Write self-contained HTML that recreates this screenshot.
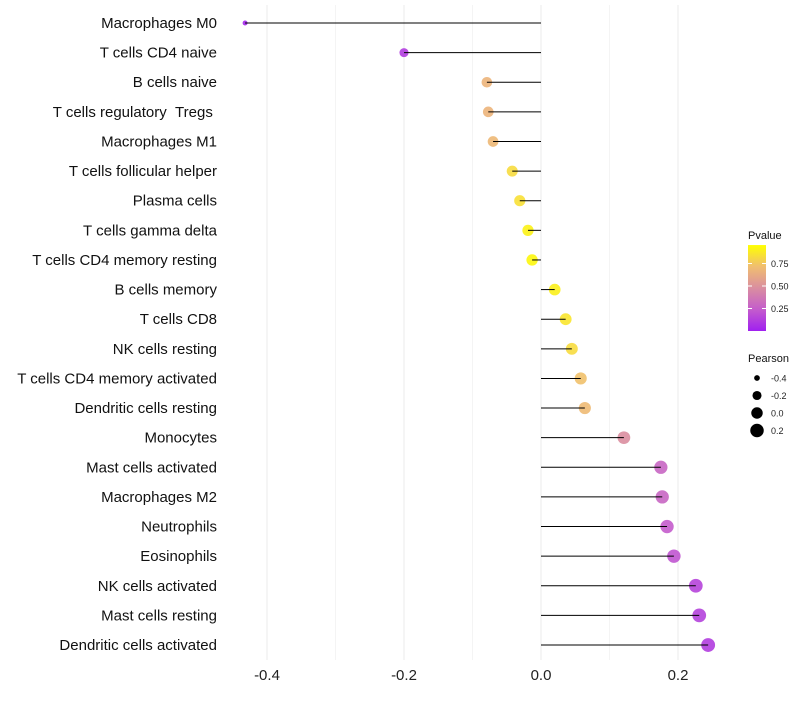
<!DOCTYPE html>
<html><head><meta charset="utf-8"><style>
body{margin:0;background:#fff;font-family:"Liberation Sans",sans-serif;}
svg text{font-family:"Liberation Sans",sans-serif;}
</style></head><body>
<svg id="c" width="800" height="700"></svg>
<script>
const categories=["Macrophages M0","T cells CD4 naive","B cells naive","T cells regulatory\u00a0\u00a0Tregs\u00a0","Macrophages M1","T cells follicular helper","Plasma cells","T cells gamma delta","T cells CD4 memory resting","B cells memory","T cells CD8","NK cells resting","T cells CD4 memory activated","Dendritic cells resting","Monocytes","Mast cells activated","Macrophages M2","Neutrophils","Eosinophils","NK cells activated","Mast cells resting","Dendritic cells activated"];
const pearson=[-0.432,-0.2,-0.079,-0.077,-0.070,-0.042,-0.031,-0.019,-0.013,0.020,0.036,0.045,0.058,0.064,0.121,0.175,0.177,0.184,0.194,0.226,0.231,0.244];
const pvalue=[0.03,0.12,0.70,0.70,0.72,0.86,0.88,0.95,0.97,0.94,0.90,0.86,0.76,0.73,0.50,0.30,0.30,0.25,0.22,0.15,0.14,0.12];
const xTicks=[-0.4,-0.2,0.0,0.2];
const xMinor=[-0.3,-0.1,0.1];
const pTicks=[0.25,0.5,0.75];
const sizeTicks=[-0.4,-0.2,0.0,0.2];
const NS="http://www.w3.org/2000/svg";
const svg=document.getElementById('c');
const x=v=>541+v*685;
const y=i=>23+i*29.62;
const rad=v=>Math.sqrt(Math.max(33+62*v,2.5));
const stops=[[0,[160,32,240]],[0.25,[196,92,204]],[0.5,[218,142,160]],[0.75,[240,190,112]],[1,[255,255,0]]];
function col(p){for(let k=0;k<stops.length-1;k++){const a=stops[k],b=stops[k+1];if(p<=b[0]){const t=(p-a[0])/(b[0]-a[0]);return 'rgb('+a[1].map((c,j)=>Math.round(c+(b[1][j]-c)*t)).join(',')+')';}}return 'rgb(255,255,0)';}
function el(t,a,p){const e=document.createElementNS(NS,t);for(const k in a)e.setAttribute(k,a[k]);(p||svg).appendChild(e);return e;}
xMinor.forEach(v=>{const g=el('line',{x1:x(v),x2:x(v),y1:5,y2:660,stroke:'#f4f4f4','stroke-width':1});

});
xTicks.forEach(v=>{const g=el('line',{x1:x(v),x2:x(v),y1:5,y2:660,stroke:'#ebebeb','stroke-width':1});


const t=el('text',{x:x(v),y:680,'text-anchor':'middle','font-size':15,fill:'#222'});t.textContent=v.toFixed(1);

});
categories.forEach((c,i)=>{
const t=el('text',{x:217,y:y(i)+5,'text-anchor':'end','font-size':15,fill:'#111'});t.textContent=c;


const p=el('circle',{cx:x(pearson[i]),cy:y(i),r:rad(pearson[i]),fill:col(pvalue[i]),'fill-opacity':0.9});


const l=el('line',{x1:x(0),x2:x(pearson[i]),y1:y(i),y2:y(i),stroke:'#000','stroke-width':1});


});
const lt=el('text',{x:748,y:239,'font-size':11,fill:'#111'});lt.textContent='Pvalue';


const defs=el('defs',{});const gr=el('linearGradient',{id:'g',x1:0,y1:1,x2:0,y2:0},defs);
stops.forEach(s=>el('stop',{offset:s[0],'stop-color':'rgb('+s[1].join(',')+')'},gr));
const by=p=>331-p*90;
const bar=el('rect',{x:748,y:by(0.955),width:18,height:by(0)-by(0.955),fill:'url(#g)'});


pTicks.forEach(p=>{el('line',{x1:748,x2:752,y1:by(p),y2:by(p),stroke:'#fff'});el('line',{x1:762,x2:766,y1:by(p),y2:by(p),stroke:'#fff'});
const t=el('text',{x:771,y:by(p)+3.5,'font-size':9,fill:'#222'});t.textContent=p.toFixed(2);

});
const st=el('text',{x:748,y:362,'font-size':11,fill:'#111'});st.textContent='Pearson';


sizeTicks.forEach((v,k)=>{const cy=378+k*17.5;
const c=el('circle',{cx:757,cy:cy,r:rad(v),fill:'#000'});


const t=el('text',{x:771,y:cy+3.5,'font-size':9,fill:'#222'});t.textContent=v.toFixed(1);

});
</script>
</body></html>
